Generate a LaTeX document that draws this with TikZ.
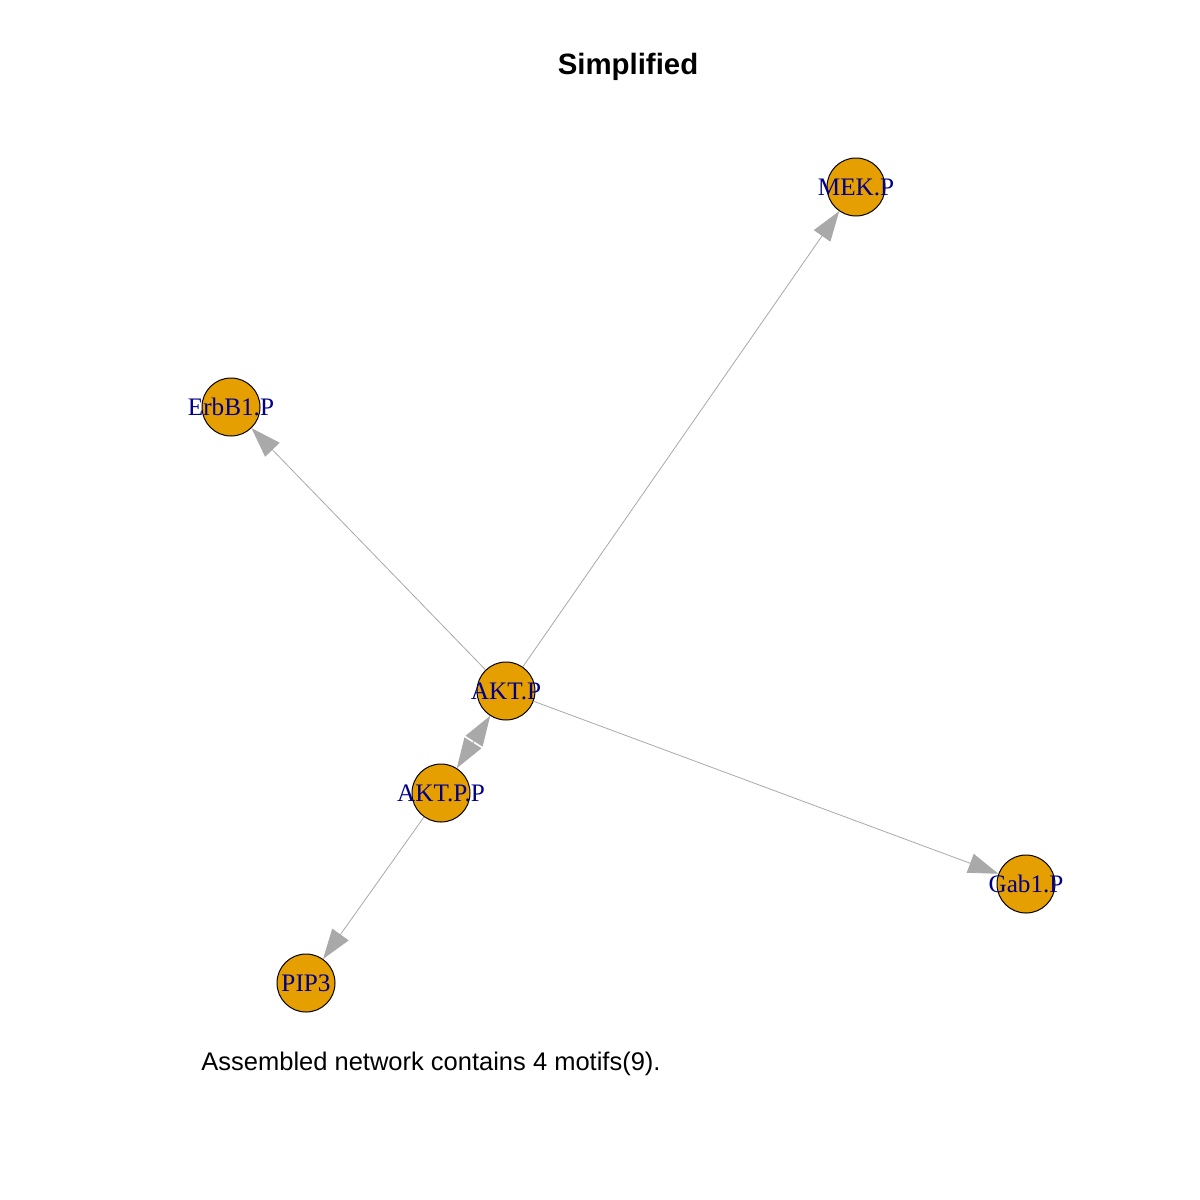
\documentclass[tikz,border=0pt]{standalone}
\usepackage{fontspec}
\setmainfont{Liberation Serif}
\newfontfamily\sansfont{Liberation Sans}
\usetikzlibrary{arrows.meta}
\definecolor{nodefill}{HTML}{E69F00}
\definecolor{labelblue}{HTML}{00008B}
\definecolor{edgegray}{HTML}{A9A9A9}
\begin{document}
\begin{tikzpicture}[x=0.5pt,y=-0.5pt,
  vnode/.style={circle,draw=black,line width=0.5pt,fill=nodefill,minimum size=29pt,inner sep=0pt,
    label={[text=labelblue,font=\fontsize{12.6}{13}\selectfont,inner sep=0pt]center:#1}},
  edge/.style={draw=edgegray,line width=0.4pt,-{Triangle[length=15pt,width=10pt,fill=edgegray]}},
  biedge/.style={draw=edgegray,line width=0.4pt,{Triangle[length=15pt,width=10pt,fill=edgegray]}-{Triangle[length=15pt,width=10pt,fill=edgegray]}}]
\useasboundingbox[fill=white] (0,0) rectangle (1200,1200);
\node[font=\sansfont\bfseries\fontsize{14.7}{16}\selectfont] (title) at (628,67) {Simplified};
\node[vnode=MEK.P] (mek) at (856,187) {};
\node[vnode=ErbB1.P] (erb) at (231,407) {};
\node[vnode=AKT.P] (akt) at (506,691) {};
\node[vnode=AKT.P.P] (aktpp) at (441,793) {};
\node[vnode=Gab1.P] (gab) at (1026,884) {};
\node[vnode=PIP3] (pip) at (306,983) {};
\draw[edge] (akt) -- (mek);
\draw[edge] (akt) -- (erb);
\draw[edge] (akt) -- (gab);
\draw[edge] (aktpp) -- (pip);
\draw[biedge] (aktpp) -- (akt);
\node[font=\sansfont\fontsize{12.75}{14}\selectfont,anchor=base west,inner sep=0pt] (cap) at (201,1070) {Assembled network contains 4 motifs(9).};
\end{tikzpicture}
\end{document}
